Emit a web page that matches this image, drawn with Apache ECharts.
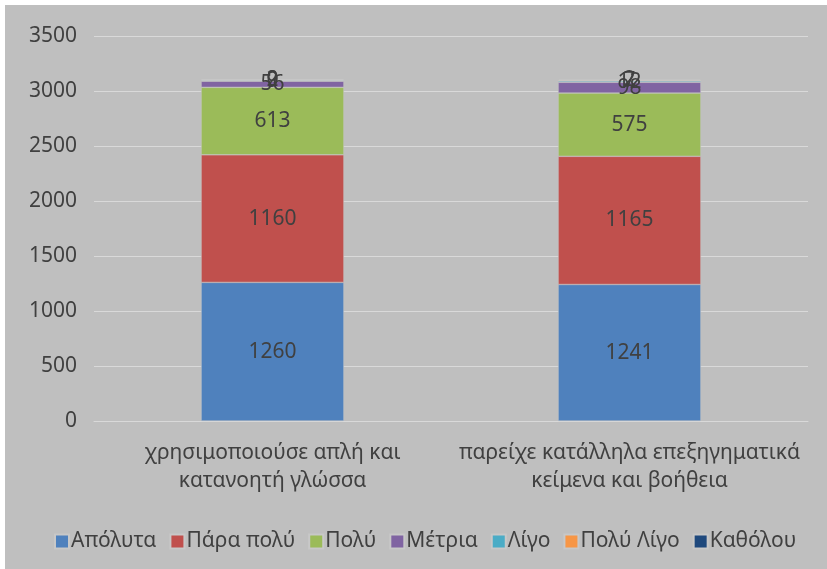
<!DOCTYPE html>
<html><head><meta charset="utf-8">
<script src="https://cdn.jsdelivr.net/npm/echarts@6/dist/echarts.min.js"></script>
<style>html,body{margin:0;padding:0;background:#fff;}#c{position:absolute;left:5px;top:5px;width:822px;height:564px;background:#bfbfbf;}</style>
</head><body><div id="c"></div>
<script>
const categories = ['χρησιμοποιούσε απλή και\nκατανοητή γλώσσα', 'παρείχε κατάλληλα επεξηγηματικά\nκείμενα και βοήθεια'];
const seriesNames = ['Απόλυτα', 'Πάρα πολύ', 'Πολύ', 'Μέτρια', 'Λίγο', 'Πολύ Λίγο', 'Καθόλου'];
const apolyta = [1260, 1241];
const paraPoly = [1160, 1165];
const poly = [613, 575];
const metria = [56, 98];
const ligo = [9, 12];
const polyLigo = [2, 7];
const katholou = [0, 2];
const yTicks = [0, 500, 1000, 1500, 2000, 2500, 3000, 3500];
const colors = ['#4f81bd', '#c0504d', '#9bbb59', '#8064a2', '#4bacc6', '#f79646', '#1f497d'];
const values = [apolyta, paraPoly, poly, metria, ligo, polyLigo, katholou];
const font = 'Noto Sans, sans-serif';
const fs = 21;
const chart = echarts.init(document.getElementById('c'));
chart.setOption({
  backgroundColor: '#bfbfbf',
  textStyle: {fontFamily: font},
  color: colors,
  grid: {left: 89, right: 19, top: 31, bottom: 148},
  legend: {
    bottom: 12, left: 44, itemWidth: 14, itemHeight: 14, itemGap: 13,
    icon: 'rect',
    textStyle: {fontFamily: font, fontSize: fs, color: '#404040', padding: [0, 0, 0, -3], textBorderWidth: 0},
    data: seriesNames
  },
  xAxis: {
    type: 'category', data: categories,
    axisLine: {lineStyle: {color: '#d9d9d9', width: 1}},
    axisTick: {show: false},
    axisLabel: {interval: 0, fontFamily: font, fontSize: fs, color: '#404040', margin: 18, lineHeight: 28}
  },
  yAxis: {
    type: 'value', min: 0, max: 3500, interval: 500,
    axisLine: {show: false}, axisTick: {show: false},
    splitLine: {lineStyle: {color: '#d9d9d9', width: 1}},
    axisLabel: {fontFamily: font, fontSize: fs, color: '#404040', margin: 17, formatter: v => String(v)}
  },
  series: seriesNames.map((n, i) => ({
    name: n, type: 'bar', stack: 's', barWidth: '40%',
    data: values[i],
    itemStyle: {color: colors[i], borderColor: '#c8c8c8', borderWidth: 0.5},
    label: {show: true, position: 'inside', fontFamily: font, fontSize: fs, color: '#404040', textBorderWidth: 0, textBorderColor: 'transparent'}
  }))
});
</script></body></html>
